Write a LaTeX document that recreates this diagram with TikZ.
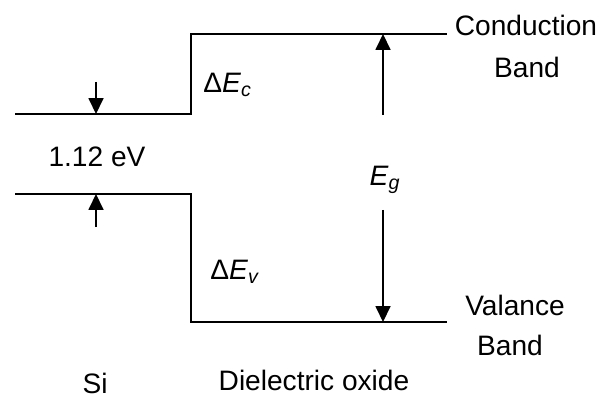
\documentclass[tikz,border=0pt]{standalone}
\usepackage{fontspec}
\setmainfont{Liberation Sans}
\usetikzlibrary{arrows.meta}

\begin{document}
\begin{tikzpicture}[x=0.02cm, y=-0.02cm,
  band/.style={line width=1pt, line join=miter},
  gap/.style={line width=0.8pt, -{Triangle[length=9pt, width=8.5pt]}},
  lab/.style={font=\fontsize{16}{19}\selectfont, inner sep=0pt}]
\useasboundingbox (0,0) rectangle (597,398);
% band edges
\coordinate (sicb) at (15,114);
\coordinate (cbstep) at (191,114);
\coordinate (oxcb0) at (191,34);
\coordinate (oxcb1) at (447,34);
\coordinate (sivb) at (15,194);
\coordinate (vbstep) at (191,194);
\coordinate (oxvb0) at (191,322);
\coordinate (oxvb1) at (447,322);
\draw[band] (sicb) -- (cbstep) -- (oxcb0) -- (oxcb1);
\draw[band] (sivb) -- (vbstep) -- (oxvb0) -- (oxvb1);
% arrow ends
\coordinate (sitop) at (96,82);
\coordinate (sicbhit) at (96,114);
\coordinate (sibot) at (96,227);
\coordinate (sivbhit) at (96,194);
\coordinate (egtop) at (383,115);
\coordinate (egcbhit) at (383,34);
\coordinate (egbot) at (383,210);
\coordinate (egvbhit) at (383,322);
\draw[gap] (sitop) -- (sicbhit);
\draw[gap] (sibot) -- (sivbhit);
\draw[gap] (egtop) -- (egcbhit);
\draw[gap] (egbot) -- (egvbhit);
% labels
\node[lab] (sigap) at (97,157) {1.12 eV};
\node[lab, anchor=west] (dec) at (203,85) {Δ\textit{E}\textsubscript{\textit{c}}};
\node[lab, anchor=west] (dev) at (210,272) {Δ\textit{E}\textsubscript{\textit{v}}};
\node[lab] (eg) at (385,180) {\textit{E}\textsubscript{\textit{g}}};
\node[lab] (cond) at (526,25) {Conduction};
\node[lab] (condb) at (527,67) {Band};
\node[lab] (val) at (515,305) {Valance};
\node[lab] (valb) at (510,345) {Band};
\node[lab] (si) at (95,383) {Si};
\node[lab] (oxide) at (314,380) {Dielectric oxide};
\end{tikzpicture}
\end{document}
